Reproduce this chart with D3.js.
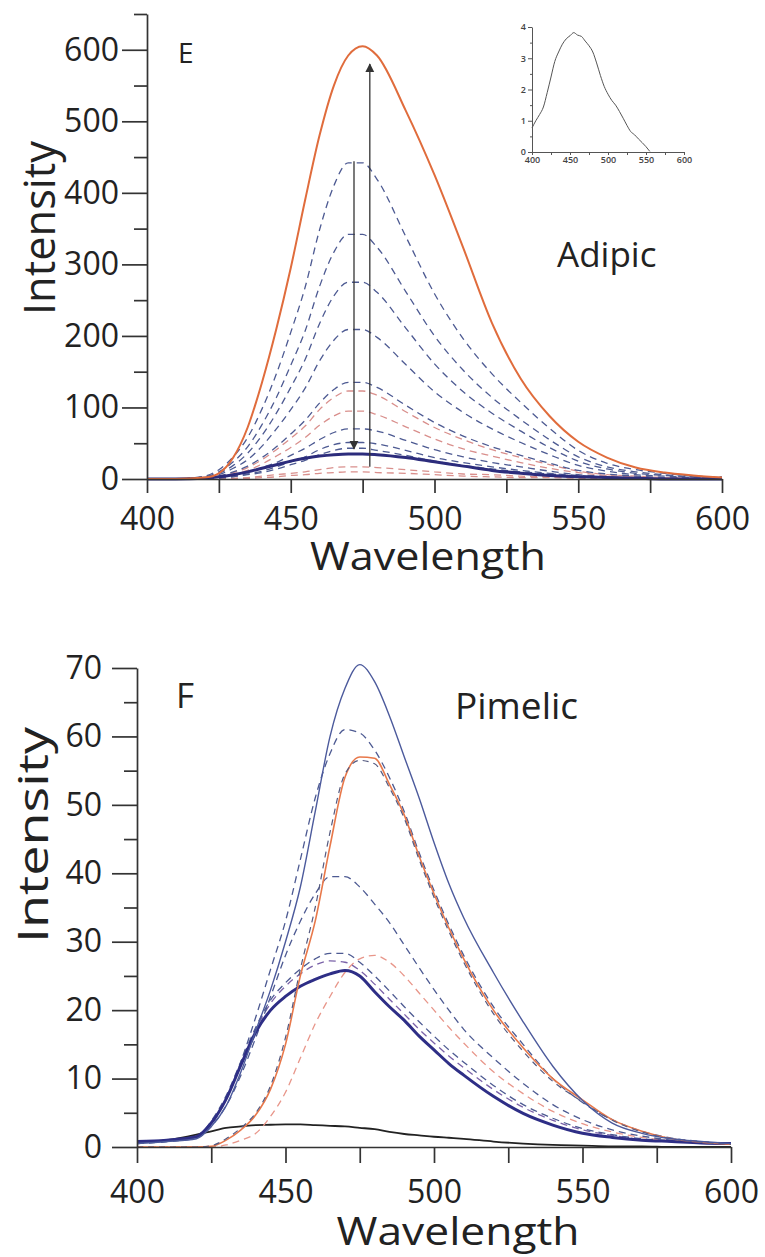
<!DOCTYPE html>
<html>
<head>
<meta charset="utf-8">
<script src="https://cdn.jsdelivr.net/npm/d3@7"></script>
<style>
  body { margin: 0; background: #fff; }
  svg { display: block; font-family: "Open Sans", sans-serif; }
  .axis path, .axis line { stroke: #333; stroke-width: 1.7px; }
  .axis text { font-size: 32px; fill: #222; font-family: "Open Sans", sans-serif; }
  .inset path, .inset line { stroke: #555; stroke-width: 1px; }
  .inset text { font-size: 9px; fill: #444; font-family: "Open Sans", sans-serif; font-weight: 600; }
  .lbl { fill: #222; }
</style>
</head>
<body>
<svg id="chart" width="765" height="1257"></svg>
<script>
// ---------- panel E (Adipic) ----------
wlTop = [400,410,420,425,430,435,440,445,450,455,460,465,470,475,480,490,500,510,520,530,540,550,560,570,580,590,600];

adipicOrange = [0,0,2,8,30,72,135,210,295,390,480,550,592,605,592,515,425,323,218,140,88,52,30,16,9,5,2];
adipicThick  = [0,0,1,3,6,10,15,20,25,29,32,34,35,35,34,30,24,18,12,8,5,3,2,1,0,0,0];
adipicD446 = [0,0,4,13,31,58,98,147,205,268,348,410,442,442,419,339,259,196,147,107,71,40,22,13,8,4,3];
adipicD345 = [0,0,3,10,24,45,76,114,159,207,269,317,342,342,324,262,200,152,114,83,55,31,17,10,6,3,2];
adipicD278 = [0,0,3,8,19,36,61,92,128,167,217,256,275,275,261,211,161,122,92,67,44,25,14,8,5,3,2];
adipicD211 = [0,0,2,6,15,27,46,70,97,127,165,194,209,209,198,160,122,93,70,51,34,19,11,6,4,2,1];
adipicD136 = [0,0,1,4,10,18,30,45,63,82,106,125,135,135,128,103,79,60,45,33,22,12,7,4,2,1,1];
adipicD124 = [0,0,1,4,9,16,27,41,57,74,97,114,123,123,117,94,72,55,41,30,20,11,6,4,2,1,1];
adipicD96  = [0,0,1,3,7,12,21,32,44,58,75,88,95,95,90,73,56,42,32,23,15,9,5,3,2,1,1];
adipicD71  = [0,0,1,2,5,9,16,23,33,43,55,65,70,70,67,54,41,31,23,17,11,6,4,2,1,1,0];
adipicD52  = [0,0,1,2,4,7,11,17,24,31,41,48,51,51,49,40,30,23,17,12,8,5,3,2,1,1,0];
adipicD43  = [0,0,0,1,3,6,9,14,20,26,34,40,43,43,40,33,25,19,14,10,7,4,2,1,1,0,0];
adipicD17  = [0,0,0,1,1,2,4,6,8,10,13,16,17,17,16,13,10,7,6,4,3,2,1,1,0,0,0];
adipicD10  = [0,0,0,0,1,1,2,3,5,6,8,9,10,10,9,8,6,4,3,2,2,1,0,0,0,0,0];

// arrows: wavelength, start intensity, end intensity
arrowWl   = [472, 477.5];
arrowFrom = [444, 17];
arrowTo   = [42, 580];

// inset (free ligand)
insetWl   = [400,405,410,415,420,425,430,435,440,445,450,455,460,465,470,475,480,485,490,495,500,505,510,515,520,525,530,535,540,545,550,555];
insetVals = [0.77,1.0,1.2,1.44,1.9,2.4,2.9,3.2,3.45,3.62,3.72,3.82,3.74,3.7,3.55,3.4,3.2,2.85,2.45,2.1,1.85,1.65,1.5,1.3,1.08,0.85,0.65,0.55,0.42,0.3,0.17,0.02];

// ---------- panel F (Pimelic) ----------
wlBot = [400,410,420,425,430,435,440,445,450,455,460,465,470,475,480,485,490,495,500,505,510,520,530,540,550,560,570,580,590,600];

pimBlue   = [0.5,0.8,1.2,3,6,11,17,23,30,38,49,60,67,70.5,68,63,57,51,44.5,38.5,33.5,25.5,18.3,11.8,6.8,3.5,2,1.2,0.8,0.5];
pimOrange = [0,0,0,0.1,1,2.5,4.7,8.5,15,25,33,44,54,57,56.8,53,48.5,42.5,37,32,27.5,20,14.5,10,6.9,4,2.3,1.2,0.7,0.4];
pimD61    = [0.5,0.8,1.4,3.3,7,12.5,19,26,33,42,51,57.5,61,60.5,58,54,49,43,37.5,32.5,28,20.5,15,10,6.5,4,2.3,1.3,0.8,0.5];
pimD56    = [0,0,0,0.2,1.2,2.8,5,9,16,26,35,46,54.5,56.5,56,52.5,48,42,36.5,31.5,27,19.5,14,9.6,6.6,3.9,2.2,1.2,0.7,0.4];
pimD40    = [0.5,0.8,1.3,3,6,10.5,16,22,28,33,37,39.5,39.5,38,35.5,32.8,29.5,26.2,23,20,17.2,13,9.3,6.2,4,2.5,1.6,1,0.7,0.4];
pimD28    = [0.7,1,1.5,3.8,7.5,12.5,17.5,21.5,24,26,27.5,28.3,28.3,27,25,22.8,20.5,18.3,16.2,14.2,12.4,9,6.2,4.2,2.7,1.8,1.2,0.9,0.6,0.5];
pimD27    = [0.6,0.9,1.4,3.6,7.2,12.2,17.2,21,23.5,25.3,26.6,27.2,27,25.8,23.8,21.6,19.4,17.2,15.2,13.3,11.6,8.4,5.8,3.9,2.5,1.7,1.1,0.8,0.6,0.4];
pimPink   = [0,0,0,0,0.3,1,2,4.5,8,13,18,22,25.5,27.5,28,27,25,22.5,20,17.5,15.2,11,7.8,5.2,3.4,2.2,1.4,0.9,0.6,0.4];
pimThick  = [0.8,1,1.5,3.5,7,12,16.8,20,22,23.5,24.5,25.3,25.8,25,22.7,20.5,18.5,16.2,14.2,12.2,10.5,7.4,4.9,3.2,2,1.4,1,0.8,0.6,0.5];
pimBlack  = [0.7,1.0,1.8,2.3,2.8,3.0,3.2,3.25,3.3,3.3,3.2,3.1,3.0,2.8,2.6,2.2,1.9,1.7,1.5,1.35,1.2,0.8,0.5,0.3,0.2,0.1,0.1,0,0,0];

xTicks = [400,425,450,475,500,525,550,575,600];

svg = d3.select("#chart");

defs = svg.append("defs");
defs.append("marker")
    .attr("id", "head")
    .attr("viewBox", "0 0 10 10")
    .attr("refX", 9).attr("refY", 5)
    .attr("markerWidth", 7).attr("markerHeight", 9)
    .attr("orient", "auto")
    .append("path")
    .attr("d", "M0,0 L10,5 L0,10 z")
    .attr("fill", "#333");

function drawLine(g, wl, vals, x, y, color, width, dash) {
    line = d3.line()
            .x((d, i) => x(wl[i]))
            .y(d => y(d))
            .curve(d3.curveMonotoneX);
    g.append("path")
        .datum(vals)
        .attr("d", line)
        .attr("fill", "none")
        .attr("stroke", color)
        .attr("stroke-width", width)
        .attr("stroke-dasharray", dash || null);
}

function drawFrame(x, y, yMajor, yMinor, yPad, xTickLen, xPad) {
    svg.append("g").attr("class", "axis")
        .attr("transform", `translate(${x.range()[0]},0)`)
        .call(d3.axisLeft(y).tickValues(yMajor).tickSize(25).tickSizeOuter(0).tickPadding(yPad));
    svg.append("g").attr("class", "axis")
        .attr("transform", `translate(${x.range()[0]},0)`)
        .call(d3.axisLeft(y).tickValues(yMinor).tickSize(13).tickSizeOuter(0).tickFormat(""))
        .select(".domain").remove();
    svg.append("g").attr("class", "axis")
        .attr("transform", `translate(0,${y(0)})`)
        .call(d3.axisBottom(x).tickValues(xTicks).tickSize(xTickLen).tickSizeOuter(0)
                .tickPadding(xPad).tickFormat(d => d % 50 === 0 ? d : ""));
}

function axisTitle(text, x, y, size, len, rotate) {
    svg.append("text")
        .attr("class", "lbl")
        .attr("transform", `translate(${x},${y}) rotate(${rotate})`)
        .attr("text-anchor", "middle")
        .attr("font-size", size)
        .attr("textLength", len)
        .attr("lengthAdjust", "spacingAndGlyphs")
        .text(text);
}

// ---------- top panel ----------
xTop = d3.scaleLinear().domain([400, 600]).range([147, 722]);
yTop = d3.scaleLinear().domain([0, 650]).range([479, 14]);

topG = svg.append("g");
blueDash = "#4d5a92";
redDash = "#d98f8c";
[[adipicD10, redDash], [adipicD17, redDash], [adipicD43, blueDash], [adipicD52, blueDash],
 [adipicD71, blueDash], [adipicD96, redDash], [adipicD124, redDash], [adipicD136, blueDash],
 [adipicD211, blueDash], [adipicD278, blueDash], [adipicD345, blueDash], [adipicD446, blueDash]]
    .forEach(s => drawLine(topG, wlTop, s[0], xTop, yTop, s[1], 1.3, "7,5"));
drawLine(topG, wlTop, adipicThick, xTop, yTop, "#2c2c7c", 3);
drawLine(topG, wlTop, adipicOrange, xTop, yTop, "#e06c3c", 2);

arrowWl.forEach((w, i) => {
    topG.append("line")
        .attr("x1", xTop(w)).attr("x2", xTop(w))
        .attr("y1", yTop(arrowFrom[i])).attr("y2", yTop(arrowTo[i]))
        .attr("stroke", "#333").attr("stroke-width", 1.3)
        .attr("marker-end", "url(#head)");
});

drawFrame(xTop, yTop, d3.range(0, 601, 100), d3.range(50, 651, 100), 3, 14, 14);

svg.append("text").attr("class", "lbl").attr("x", 178).attr("y", 63).attr("font-size", 28).text("E");
svg.append("text").attr("class", "lbl").attr("x", 557).attr("y", 267).attr("font-size", 35).text("Adipic");
axisTitle("Intensity", 55, 228, 44, 174, -90);
axisTitle("Wavelength", 428, 570, 38, 236, 0);

// inset
xIn = d3.scaleLinear().domain([400, 600]).range([532, 684]);
yIn = d3.scaleLinear().domain([0, 4]).range([152, 27]);
inG = svg.append("g").attr("class", "inset");
inG.append("g").attr("transform", `translate(${xIn(400)},0)`)
    .call(d3.axisLeft(yIn).tickValues([0,1,2,3,4]).tickSize(4).tickSizeOuter(0).tickPadding(2).tickFormat(d3.format("d")));
inG.append("g").attr("transform", `translate(${xIn(400)},0)`)
    .call(d3.axisLeft(yIn).tickValues([0.5,1.5,2.5,3.5]).tickSize(2).tickFormat(""))
    .select(".domain").remove();
inG.append("g").attr("transform", `translate(0,${yIn(0)})`)
    .call(d3.axisBottom(xIn).tickValues(d3.range(400, 601, 25)).tickSize(3).tickSizeOuter(0).tickPadding(2)
            .tickFormat(d => d % 50 === 0 ? d : ""));
drawLine(inG, insetWl, insetVals, xIn, yIn, "#555", 1.1);

// ---------- bottom panel ----------
xBot = d3.scaleLinear().domain([400, 600]).range([137, 731]);
yBot = d3.scaleLinear().domain([0, 70]).range([1147, 668]);

botG = svg.append("g");
drawLine(botG, wlBot, pimBlack, xBot, yBot, "#222", 1.8);
drawLine(botG, wlBot, pimPink, xBot, yBot, "#e8968a", 1.3, "7,5");
drawLine(botG, wlBot, pimD27, xBot, yBot, "#7a62a8", 1.3, "7,5");
drawLine(botG, wlBot, pimD28, xBot, yBot, "#4d5a92", 1.3, "7,5");
drawLine(botG, wlBot, pimD40, xBot, yBot, "#4d5a92", 1.3, "7,5");
drawLine(botG, wlBot, pimD61, xBot, yBot, "#4d5a92", 1.3, "7,5");
drawLine(botG, wlBot, pimThick, xBot, yBot, "#2e2e86", 3);
drawLine(botG, wlBot, pimOrange, xBot, yBot, "#e8784a", 1.6);
drawLine(botG, wlBot, pimD56, xBot, yBot, "#555a80", 1.2, "6,5");
drawLine(botG, wlBot, pimBlue, xBot, yBot, "#4c5a9c", 1.4);

drawFrame(xBot, yBot, d3.range(0, 71, 10), d3.range(5, 66, 10), 10, 16, 17);

svg.append("text").attr("class", "lbl").attr("x", 176).attr("y", 708).attr("font-size", 35).text("F");
svg.append("text").attr("class", "lbl").attr("x", 455).attr("y", 719).attr("font-size", 37).text("Pimelic");
axisTitle("Intensity", 48, 835, 42, 216, -90);
axisTitle("Wavelength", 458, 1245, 38, 243, 0);
</script>
</body>
</html>
